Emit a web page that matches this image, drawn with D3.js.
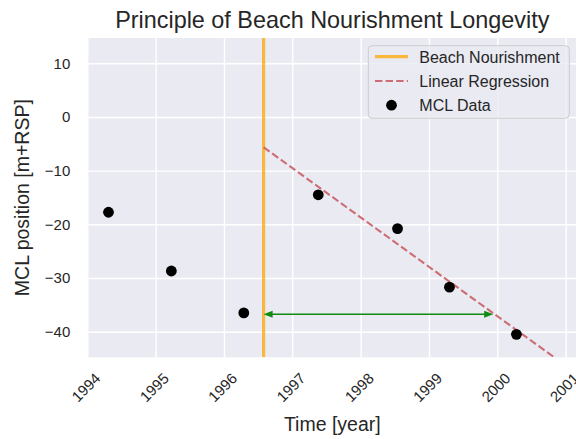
<!DOCTYPE html>
<html>
<head>
<meta charset="utf-8">
<script src="https://cdn.jsdelivr.net/npm/d3@7/dist/d3.min.js"></script>
<style>
  html, body { margin: 0; padding: 0; background: #ffffff; }
  svg { display: block; font-family: "Liberation Sans", Arial, sans-serif; }
</style>
</head>
<body>
<svg id="chart" width="576" height="439"></svg>
<script>
// Measured coastline (MCL) positions per survey date
const surveyYears = [1994.31, 1995.23, 1996.29, 1997.38, 1998.54, 1999.30, 2000.28];
const mclPositions = [-17.75, -28.7, -36.5, -14.5, -20.8, -31.7, -40.5];

// Date of the nourishment
const nourishmentYear = 1996.58;

// Fitted trend after nourishment (start and end of the drawn segment)
const regressionYears = [1996.58, 2000.82];
const regressionValues = [-5.65, -44.65];

// Lifetime arrow: from nourishment until the trend returns to the pre-nourishment level
const lifetimeYears = [1996.58, 1999.94];
const lifetimeLevel = -36.75;

// Axis ticks
const xTickValues = [1994, 1995, 1996, 1997, 1998, 1999, 2000, 2001];
const yTickValues = [-40, -30, -20, -10, 0, 10];

const legendLabels = ["Beach Nourishment", "Linear Regression", "MCL Data"];

const svg = d3.select("#chart");
const pLeft = 87.3, pRight = 579.3, pTop = 38, pBottom = 357.3;
const ink = "#262626";

const x = d3.scaleLinear().domain([1994, 2001.2]).range([pLeft, pRight]);
const y = d3.scaleLinear().domain([-44.77, 14.7]).range([pBottom, pTop]);

// Plot background
svg.append("rect")
  .attr("x", pLeft).attr("y", pTop)
  .attr("width", pRight - pLeft).attr("height", pBottom - pTop)
  .attr("fill", "#EAEAF2");

svg.append("defs").append("clipPath").attr("id", "plotClip")
  .append("rect")
  .attr("x", pLeft).attr("y", pTop)
  .attr("width", pRight - pLeft).attr("height", pBottom - pTop);

// Grid lines via axes with full-length ticks
const xGrid = svg.append("g")
  .attr("transform", `translate(0,${pBottom})`)
  .call(d3.axisBottom(x).tickValues(xTickValues).tickSize(-(pBottom - pTop)).tickFormat(""));
const yGrid = svg.append("g")
  .attr("transform", `translate(${pLeft},0)`)
  .call(d3.axisLeft(y).tickValues(yTickValues).tickSize(-(pRight - pLeft)).tickFormat(""));
[xGrid, yGrid].forEach(g => {
  g.select(".domain").remove();
  g.selectAll(".tick line").attr("stroke", "#ffffff").attr("stroke-width", 1.4);
});

// Tick labels
const yAxis = svg.append("g")
  .attr("transform", `translate(${pLeft},0)`)
  .call(d3.axisLeft(y).tickValues(yTickValues).tickSize(0).tickPadding(17)
    .tickFormat(d => d < 0 ? "\u2212" + Math.abs(d) : d));
yAxis.select(".domain").remove();
yAxis.selectAll("text")
  .attr("fill", ink).attr("font-size", 15)
  .attr("font-family", "Liberation Sans, Arial, sans-serif");

const xAxis = svg.append("g")
  .attr("transform", `translate(0,${pBottom})`)
  .call(d3.axisBottom(x).tickValues(xTickValues).tickSize(0).tickFormat(d3.format("d")));
xAxis.select(".domain").remove();
xAxis.selectAll("text")
  .attr("fill", ink).attr("font-size", 15)
  .attr("font-family", "Liberation Sans, Arial, sans-serif")
  .attr("text-anchor", "middle")
  .attr("dy", null)
  .attr("y", null)
  .attr("dominant-baseline", "central")
  .attr("transform", "translate(-2,30) rotate(-45)");

const plot = svg.append("g").attr("clip-path", "url(#plotClip)");

// Nourishment marker
plot.append("line")
  .attr("x1", x(nourishmentYear)).attr("x2", x(nourishmentYear))
  .attr("y1", pTop).attr("y2", pBottom)
  .attr("stroke", "#FFA500").attr("stroke-opacity", 0.75)
  .attr("stroke-width", 3.2);

// Regression trend
plot.append("path")
  .datum(regressionYears.map((yr, i) => [yr, regressionValues[i]]))
  .attr("d", d3.line().x(d => x(d[0])).y(d => y(d[1])))
  .attr("fill", "none")
  .attr("stroke", "#C44E52").attr("stroke-opacity", 0.8)
  .attr("stroke-width", 2.1)
  .attr("stroke-dasharray", "7.4,3.2");

// Lifetime arrow (double-headed)
const ay = y(lifetimeLevel);
const ax0 = x(lifetimeYears[0]), ax1 = x(lifetimeYears[1]);
const headLen = 9, headHalf = 3.6;
const green = "#118a11";
plot.append("line")
  .attr("x1", ax0 + headLen - 1).attr("x2", ax1 - headLen + 1)
  .attr("y1", ay).attr("y2", ay)
  .attr("stroke", green).attr("stroke-width", 1.5);
plot.append("path")
  .attr("d", `M${ax0},${ay} L${ax0 + headLen},${ay - headHalf} L${ax0 + headLen},${ay + headHalf} Z`)
  .attr("fill", green);
plot.append("path")
  .attr("d", `M${ax1},${ay} L${ax1 - headLen},${ay - headHalf} L${ax1 - headLen},${ay + headHalf} Z`)
  .attr("fill", green);

// Survey points
plot.selectAll("circle.mcl")
  .data(surveyYears.map((yr, i) => [yr, mclPositions[i]]))
  .join("circle")
  .attr("class", "mcl")
  .attr("cx", d => x(d[0])).attr("cy", d => y(d[1]))
  .attr("r", 5.4)
  .attr("fill", "#000000");

// Legend
const lg = svg.append("g");
lg.append("rect")
  .attr("x", 368.3).attr("y", 45.7)
  .attr("width", 201).attr("height", 72.6)
  .attr("rx", 4).attr("ry", 4)
  .attr("fill", "#EAEAF2").attr("fill-opacity", 0.8)
  .attr("stroke", "#CCCCCC").attr("stroke-width", 1);
const rowY = [56.7, 81, 105.2];
lg.append("line")
  .attr("x1", 375).attr("x2", 408).attr("y1", rowY[0]).attr("y2", rowY[0])
  .attr("stroke", "#FFA500").attr("stroke-opacity", 0.75).attr("stroke-width", 3.2);
lg.append("line")
  .attr("x1", 375).attr("x2", 408).attr("y1", rowY[1]).attr("y2", rowY[1])
  .attr("stroke", "#C44E52").attr("stroke-opacity", 0.8).attr("stroke-width", 2.1)
  .attr("stroke-dasharray", "7.4,3.2");
lg.append("circle")
  .attr("cx", 391.5).attr("cy", rowY[2]).attr("r", 5.4).attr("fill", "#000000");
lg.selectAll("text.lbl")
  .data(legendLabels)
  .join("text")
  .attr("class", "lbl")
  .attr("x", 419.3)
  .attr("y", (d, i) => rowY[i] + 5.8)
  .attr("font-size", 16)
  .attr("fill", ink)
  .text(d => d);

// Title and axis labels
svg.append("text")
  .attr("x", (pLeft + pRight) / 2 - 1).attr("y", 28.3)
  .attr("text-anchor", "middle")
  .attr("font-size", 23.4)
  .attr("fill", ink)
  .text("Principle of Beach Nourishment Longevity");

svg.append("text")
  .attr("x", (pLeft + pRight) / 2 - 1).attr("y", 431)
  .attr("text-anchor", "middle")
  .attr("font-size", 19.5)
  .attr("fill", ink)
  .text("Time [year]");

svg.append("text")
  .attr("transform", `translate(29,${(pTop + pBottom) / 2}) rotate(-90)`)
  .attr("text-anchor", "middle")
  .attr("font-size", 19.5)
  .attr("fill", ink)
  .text("MCL position [m+RSP]");
</script>
</body>
</html>
